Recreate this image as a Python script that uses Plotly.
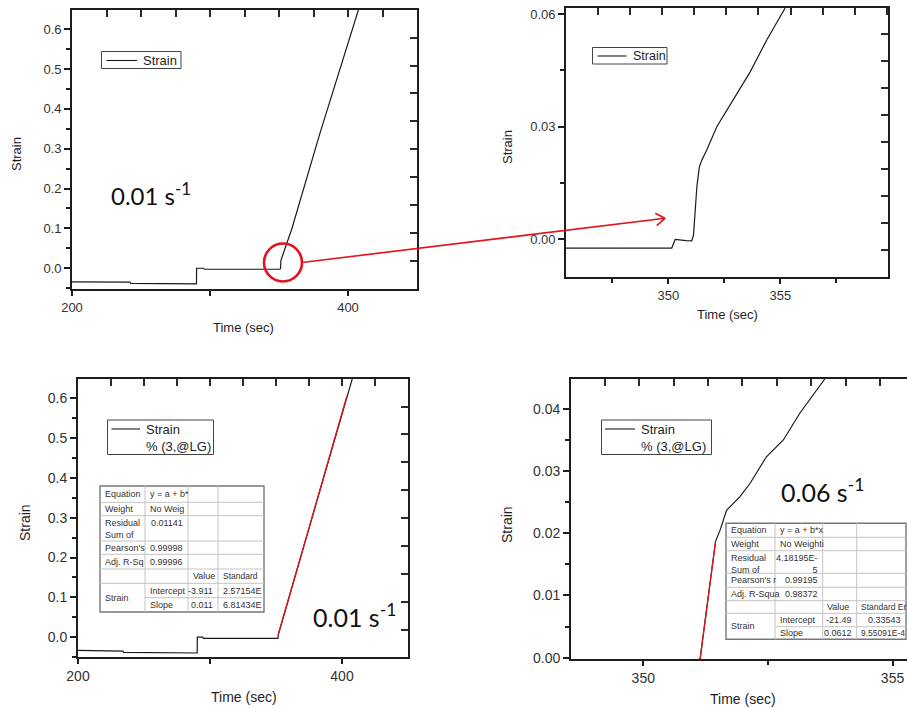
import math
import plotly.graph_objects as go

W, H = 907, 708

# ---------------- data ----------------
# 0.01 s^-1 test, full record
time_full = [200, 213, 213.5, 242, 242.5, 284, 284.5, 290.2, 290.3, 295.5, 296,
             350.7, 351.1, 351.4, 359.2, 379.7, 407.7]
strain_full = [-0.034, -0.034, -0.035, -0.035, -0.038, -0.038, -0.039, -0.039, 0.0, 0.0,
               -0.0025, -0.0025, 0.0, 0.02, 0.098, 0.339, 0.65]

# 0.01 s^-1 test, start of loading (close-up)
time_zoom = [345.4, 350.15, 350.3, 350.52, 350.8, 351.04, 351.12, 351.27, 351.38,
             351.49, 351.71, 352.16, 352.9, 353.65, 354.39, 355.21]
strain_zoom = [-0.0023, -0.0023, 0.0, -0.0002, -0.0003, -0.0004, 0.0011, 0.014, 0.0193,
               0.0211, 0.0238, 0.030, 0.0371, 0.0446, 0.0531, 0.0616]

# 0.01 s^-1 test with linear fit
time_fit01 = [200, 211, 211.5, 234, 234.5, 282, 282.5, 290.3, 290.4, 294.5, 295,
              351.5, 351.7, 380, 403.6, 408]
strain_fit01 = [-0.0335, -0.0335, -0.035, -0.035, -0.0386, -0.0386, -0.040, -0.040,
                0.0, 0.0, -0.003, -0.003, 0.006, 0.33, 0.605, 0.652]
fit01_time = [351.7, 403.6]
fit01_strain = [0.006, 0.605]

# 0.06 s^-1 test with linear fit
time_06 = [351.0, 351.14, 351.27, 351.38, 351.45, 351.55, 351.67, 351.94, 352.14,
           352.47, 352.81, 353.14, 353.47, 353.64]
strain_06 = [-0.0006, -0.0002, 0.0078, 0.0145, 0.0187, 0.0207, 0.0237, 0.0259, 0.0280,
             0.0323, 0.0350, 0.0393, 0.0430, 0.0448]
fit06_intercept = -21.49
fit06_slope = 0.0612
fit06_time = [351.14, 351.45]
fit06_strain = [fit06_intercept + fit06_slope * t for t in fit06_time]

# fit report tables
fit01_labels = ["Equation", "Weight", "Residual<br>Sum of", "Pearson's", "Adj. R-Sq"]
fit01_values = ["y = a + b*", "No Weig", "0.01141", "0.99998", "0.99996"]
fit01_header = ["Value", "Standard"]
fit01_params = ["Intercept", "Slope"]
fit01_estimates = ["-3.911", "0.011"]
fit01_errors = ["2.57154E", "6.81434E"]

fit06_labels = ["Equation", "Weight", "Residual<br>Sum of", "Pearson's r", "Adj. R-Squa"]
fit06_values = ["y = a + b*x", "No Weighti", "4.18195E-<br>5", "0.99195", "0.98372"]
fit06_header = ["Value", "Standard Er"]
fit06_params = ["Intercept", "Slope"]
fit06_estimates = [f"{fit06_intercept:g}", f"{fit06_slope:g}"]
fit06_errors = ["0.33543", "9.55091E-4"]

rate_labels = ["0.01 s<sup>-1</sup>", "0.06 s<sup>-1</sup>"]


# ---------------- helpers ----------------
def fx(p):
    return p / W


def fy(p):
    return 1 - p / H


INK = "#1e1e1e"
TXT = "#333333"
FONT = "Liberation Sans, Arial, sans-serif"
RED = "#e3121b"

fig = go.Figure()

line_style = dict(color="#1a1a1a", width=1.2)
series = {1: (time_full, strain_full), 2: (time_zoom, strain_zoom),
          3: (time_fit01, strain_fit01), 4: (time_06, strain_06)}

for k, (xs, ys) in series.items():
    sx = "" if k == 1 else str(k)
    fig.add_trace(go.Scatter(x=xs, y=ys, mode="lines", line=line_style,
                             xaxis="x" + sx, yaxis="y" + sx, showlegend=False))
fig.add_trace(go.Scatter(x=fit01_time, y=fit01_strain, mode="lines",
                         line=dict(color=RED, width=1.3),
                         xaxis="x3", yaxis="y3", showlegend=False))
fig.add_trace(go.Scatter(x=fit06_time, y=fit06_strain, mode="lines",
                         line=dict(color=RED, width=1.3),
                         xaxis="x4", yaxis="y4", showlegend=False))

# transparent companion subplot per panel that carries the inward top/right ticks
for k, (xs, ys) in series.items():
    fig.add_trace(go.Scatter(x=xs, y=ys, mode="lines",
                             line=dict(color="rgba(0,0,0,0)", width=1),
                             xaxis="x%d" % (k + 4), yaxis="y%d" % (k + 4),
                             showlegend=False, hoverinfo="skip"))

base = dict(showline=True, linecolor=INK, linewidth=1.8, mirror=True, showgrid=False,
            zeroline=False, ticks="outside", tickcolor=INK, tickwidth=2,
            automargin=False,
            tickfont=dict(family=FONT, size=13, color=TXT), fixedrange=True)


def minor(dt=None, t0=0, ln=4, side="outside", vals=None):
    d = dict(ticks=side, ticklen=ln, tickcolor=INK, tickwidth=1.6, showgrid=False)
    if vals is not None:
        d.update(tickmode="array", tickvals=vals)
    else:
        d.update(dtick=dt, tick0=t0)
    return d


def frame_axis(**kw):
    d = dict(showline=False, showgrid=False, zeroline=False, ticks="inside",
             tickcolor="#2a2a2a", tickwidth=2.2, ticklen=7, showticklabels=False,
             automargin=False, fixedrange=True)
    d.update(kw)
    return d


panels = {
    1: dict(x=(72, 417), y=(10, 289), xr=[200, 450], yr=[-0.052, 0.648]),
    2: dict(x=(566, 888), y=(8, 277), xr=[345.43, 359.8], yr=[-0.0100, 0.0616]),
    3: dict(x=(78, 408), y=(379, 657), xr=[200, 450], yr=[-0.050, 0.649]),
    4: dict(x=(571, 907), y=(379, 659.3), xr=[348.55, 355.29], yr=[-0.00026, 0.0448]),
}

# tick spacing along the top (x) and right (y) edge of each panel
frame_ticks = {
    1: (dict(dtick=25, tick0=0), dict(dtick=0.0701, tick0=0.018)),
    2: (dict(dtick=1.43, tick0=348.3), dict(dtick=0.0072, tick0=0.0044)),
    3: (dict(dtick=25, tick0=0), dict(dtick=0.0701, tick0=0.019)),
    4: (dict(dtick=0.69, tick0=349.23), None),
}

lay = {}
for k, p in panels.items():
    sx = "" if k == 1 else str(k)
    dx = [fx(p["x"][0]), min(1.0, fx(p["x"][1]))]
    dy = [fy(p["y"][1]), fy(p["y"][0])]
    lay["xaxis" + sx] = dict(base, domain=dx, range=p["xr"], anchor="y" + sx)
    lay["yaxis" + sx] = dict(base, domain=dy, range=p["yr"], anchor="x" + sx)
    top, right = frame_ticks[k]
    fk = str(k + 4)
    lay["xaxis" + fk] = frame_axis(domain=dx, range=p["xr"], anchor="y" + fk,
                                   side="top", **top)
    if right is None:
        lay["yaxis" + fk] = frame_axis(domain=dy, range=p["yr"], anchor="x" + fk,
                                       side="right", ticks="")
    else:
        lay["yaxis" + fk] = frame_axis(domain=dy, range=p["yr"], anchor="x" + fk,
                                       side="right", **right)

# panel 1
lay["xaxis"].update(tickvals=[200, 400], ticklen=5, minor=minor(ln=5, vals=[300]))
lay["yaxis"].update(dtick=0.1, tick0=0, tickformat=".1f", ticklen=6, minor=minor(0.05))
# panel 2
lay["xaxis2"].update(tickvals=[350, 355], ticklen=5, minor=minor(2.5, 350))
lay["yaxis2"].update(tickvals=[0, 0.03, 0.06], ticktext=["0.00", "0.03", "0.06"],
                     ticklen=6, minor=minor(0.015))
# panel 3
big = dict(family=FONT, size=14, color=TXT)
lay["xaxis3"].update(tickvals=[200, 400], ticklen=5, minor=minor(ln=5, vals=[300]),
                     tickfont=big)
lay["yaxis3"].update(dtick=0.1, tick0=0, tickformat=".1f", ticklen=6, minor=minor(0.05),
                     tickfont=big)
# panel 4
lay["xaxis4"].update(tickvals=[350, 355], ticklen=5, minor=minor(2.5, 350), tickfont=big)
lay["yaxis4"].update(dtick=0.01, tick0=0, tickformat=".2f", ticklen=6, mirror=False,
                     minor=minor(0.005), tickfont=big)

shapes = []
annotations = []


def text(x, y, s, size=13, xanchor="center", yanchor="middle", color=TXT,
         family=FONT, angle=0, align="left"):
    annotations.append(dict(x=fx(x), y=fy(y), xref="paper", yref="paper", text=s,
                            showarrow=False, xanchor=xanchor, yanchor=yanchor,
                            textangle=angle, align=align,
                            font=dict(family=family, size=size, color=color)))


def seg(x0, y0, x1, y1, color=INK, width=1.0):
    shapes.append(dict(type="line", xref="paper", yref="paper", x0=fx(x0), y0=fy(y0),
                       x1=fx(x1), y1=fy(y1), line=dict(color=color, width=width)))


def box(x0, y0, x1, y1, color="#444", width=1.0, fill="white"):
    shapes.append(dict(type="rect", xref="paper", yref="paper", x0=fx(x0), y0=fy(y0),
                       x1=fx(x1), y1=fy(y1), line=dict(color=color, width=width),
                       fillcolor=fill))


# axis titles
for (sx, sy), (tx, ty), sz in [((17, 154), (244, 328), 13),
                               ((507, 147), (727, 314), 13),
                               ((25, 523), (244, 697), 14),
                               ((507, 525), (743, 699), 14)]:
    text(sx, sy, "Strain", size=sz, angle=-90, color=INK)
    text(tx, ty, "Time (sec)", size=sz, color=INK)


# legends
def legend(x0, y0, x1, y1, ly, lx0, lx1, lines, size=13):
    box(x0, y0, x1, y1)
    seg(lx0, ly, lx1, ly, color="#1a1a1a", width=1.1)
    for i, s in enumerate(lines):
        text(lx1 + 4, ly + i * 17.5, s, size=size, xanchor="left", color=INK)


legend(101.5, 51.5, 181, 68.5, 60.5, 106.5, 137, ["Strain"])
legend(592.5, 47.5, 667, 64, 56, 597.5, 626.5, ["Strain"], size=12.5)
legend(107.5, 420, 213.5, 454.5, 429, 111.5, 140, ["Strain", "% (3,@LG)"])
legend(601.5, 420, 711.5, 454.5, 429, 605, 635, ["Strain", "% (3,@LG)"])

# strain-rate labels
text(151, 194, rate_labels[0], size=24, family="Lato, Open Sans, sans-serif", color="#111")
text(354, 615, rate_labels[0], size=25, family="Lato, Open Sans, sans-serif", color="#111")
text(822, 490, rate_labels[1], size=25, family="Lato, Open Sans, sans-serif", color="#111")


# fit report tables
def table(cols, rows, labels, values, header, params, estimates, errors, size=9):
    box(cols[0], rows[0], cols[-1], rows[-1], color="#777", width=1.4)
    for i in range(1, len(rows) - 1):
        start = cols[1] if i == 7 else cols[0]
        seg(start, rows[i], cols[-1], rows[i], color="#c4c4c4", width=1)
    for c in cols[1:-1]:
        seg(c, rows[0], c, rows[-1], color="#c4c4c4", width=1)

    def cell(r, c, s, align="left", top=False, sz=size):
        if align == "left":
            x, xa = cols[c] + 2.5, "left"
        else:
            x, xa = cols[c + 1] - 3, "right"
        if top:
            y, ya = rows[r] + 0.5, "top"
        else:
            y, ya = (rows[r] + rows[r + 1]) / 2, "middle"
        text(x, y, s, size=sz, xanchor=xa, yanchor=ya, align=align)

    for r in range(5):
        cell(r, 0, labels[r], top=(r == 2))
        numeric = r >= 2
        cell(r, 1, values[r], align="right" if numeric else "left", top=(r == 2))
    cell(5, 2, header[0])
    cell(5, 3, header[1], sz=size - 0.5)
    text(cols[0] + 2.5, (rows[6] + rows[8]) / 2, "Strain", size=size, xanchor="left")
    for i in range(2):
        cell(6 + i, 1, params[i])
        cell(6 + i, 2, estimates[i], align="right")
        plain = "E" not in errors[i]
        cell(6 + i, 3, errors[i], align="right" if plain else "left",
             sz=size - 0.5 if "-" in errors[i] else size)


table([100, 145, 188, 218, 264],
      [486, 502.3, 515.7, 541, 554.3, 569, 583.3, 597.7, 612],
      fit01_labels, fit01_values, fit01_header, fit01_params, fit01_estimates, fit01_errors)
table([726, 775, 822.7, 856.7, 906],
      [523.3, 537.3, 550.7, 573.3, 587.3, 600.7, 613.3, 626.7, 639.3],
      fit06_labels, fit06_values, fit06_header, fit06_params, fit06_estimates, fit06_errors)

# red circle and arrow linking the full record to the close-up
cx, cy, r = 283, 262.5, 19
shapes.append(dict(type="circle", xref="paper", yref="paper", x0=fx(cx - r), x1=fx(cx + r),
                   y0=fy(cy + r), y1=fy(cy - r), line=dict(color=RED, width=2.6)))
ax0, ay0, ax1, ay1 = cx + r, cy, 665, 218.3
seg(ax0, ay0, ax1, ay1, color=RED, width=1.6)
ang = math.atan2(ay1 - ay0, ax1 - ax0)
for d in (0.6, -0.6):
    seg(ax1, ay1, ax1 - 11 * math.cos(ang + d), ay1 - 11 * math.sin(ang + d),
        color=RED, width=1.6)

fig.update_layout(
    template="none",
    width=W, height=H, margin=dict(l=0, r=0, t=0, b=0, autoexpand=False),
    paper_bgcolor="white", plot_bgcolor="rgba(0,0,0,0)",
    shapes=shapes, annotations=annotations, showlegend=False,
    **lay,
)

fig.write_html("out.html")
